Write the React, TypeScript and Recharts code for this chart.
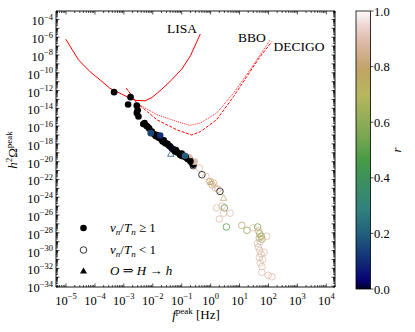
import { ScatterChart, Scatter, XAxis, YAxis, ReferenceArea } from 'recharts'

// [f, h2Omega, r]
const strongPts: [number, number, number][] = [
  [4.6e-4, 6.6e-13, 0], [1.7e-3, 1.8e-13, 0], [1.4e-3, 2.7e-14, 0], [2.8e-3, 2.0e-14, 0],
  [2.8e-3, 2.9e-15, 0], [3.2e-3, 1.2e-15, 0], [4.7e-3, 1.7e-16, 0], [6.0e-3, 1.1e-16, 0],
  [6.5e-3, 9.1e-17, 0], [9.3e-3, 2.5e-17, 0], [1.1e-2, 1.3e-17, 0], [1.4e-2, 1.0e-17, 0],
  [1.6e-2, 5.0e-18, 0], [2.0e-2, 2.9e-18, 0], [2.4e-2, 2.5e-18, 0], [2.7e-2, 1.2e-18, 0],
  [3.2e-2, 1.0e-18, 0], [4.0e-2, 5.1e-19, 0], [4.5e-2, 3.2e-19, 0.02], [5.9e-2, 1.4e-19, 0],
  [6.3e-2, 2.0e-19, 0], [7.1e-2, 1.1e-19, 0], [8.7e-2, 6.0e-20, 0], [0.1, 7.9e-20, 0],
  [0.11, 4.0e-20, 0], [0.16, 2.0e-20, 0], [0.19, 1.6e-20, 0], [0.22, 7.9e-21, 0],
  [0.25, 4.5e-21, 0], [0.18, 3.2e-20, 0.9], [0.28, 1.0e-20, 0.9],
  [3.0e-3, 6.0e-15, 0], [5.2e-3, 2.2e-16, 0], [7.5e-3, 5.5e-17, 0], [1.25e-2, 7.5e-18, 0],
  [2.2e-2, 1.8e-18, 0], [3.6e-2, 6.5e-19, 0], [5.2e-2, 2.4e-19, 0], [9.5e-2, 4.8e-20, 0],
  [0.14, 3.0e-20, 0], [0.2, 1.1e-20, 0],
  [8.5e-3, 1.6e-17, 0.15], [1.8e-2, 8.9e-18, 0.1], [0.13, 4.6e-20, 0.2],
]

const weakPts: [number, number, number][] = [
  [0.25, 3.5e-21, 0], [0.41, 1.9e-21, 0.9], [0.5, 3.4e-22, 0], [0.69, 2.2e-22, 0.9],
  [0.95, 6.0e-23, 0.8], [1.26, 3.9e-23, 0.85], [1.45, 1.1e-23, 0.9], [2.1, 4.5e-24, 0],
  [1.12, 2.5e-23, 0.8], [1.8, 7.9e-24, 0.85], [1.6, 6.3e-26, 0.9], [2.5, 1.0e-25, 0.9],
  [3.0, 6.3e-26, 0.5], [4.7, 1.6e-26, 0.9], [2.8, 1.6e-26, 0.9], [2.0, 3.5e-27, 0.9],
  [3.5, 4.5e-28, 0.5], [12, 6.8e-28, 0.8], [18, 1.9e-28, 0.6], [29, 3.5e-28, 0.9],
  [42, 4.5e-28, 0.55], [45, 1.6e-28, 0.85], [50, 7.9e-29, 0.75], [56, 4.0e-29, 0.55],
  [48, 2.5e-29, 0.8], [60, 2.0e-29, 0.6], [52, 1.0e-29, 0.9], [87, 4.0e-29, 0.9],
  [45, 2.5e-30, 0.9], [50, 1.0e-30, 0.9], [56, 4.0e-31, 0.9], [48, 1.6e-31, 0.9],
  [63, 1.0e-31, 0.9], [52, 4.0e-32, 0.9], [60, 1.6e-32, 0.9], [59, 3.5e-33, 0.9],
  [98, 1.6e-33, 0.9], [132, 1.1e-33, 0.9], [42, 6.3e-30, 0.9], [71, 6.3e-31, 0.9],
]

const higgsPts: [number, number, number][] = [
  [4.2e-2, 7.1e-20, 0.2], [2.8, 7.9e-25, 0.8], [1.0, 5.0e-23, 0.8],
]

// sensitivity curves [f, h2Omega]
const lisaCurve: [number, number][] = [
  [9.8e-6, 6.0e-7], [2.7e-5, 2.8e-9], [6.8e-5, 1.3e-10], [1.5e-4, 1.6e-11], [3.3e-4, 1.8e-12],
  [7.4e-4, 4.9e-13], [1.6e-3, 1.4e-13], [2.6e-3, 7.9e-14], [5.4e-3, 6.9e-14], [9.3e-3, 1.6e-13],
  [2.0e-2, 1.3e-12], [4.5e-2, 1.6e-11], [0.1, 2.5e-10], [0.2, 8.0e-9], [0.44, 2.3e-6],
]
const bboCurve: [number, number][] = [
  [1.2e-3, 1.9e-12], [1.8e-3, 3.3e-13], [2.8e-3, 3.8e-14], [5.4e-3, 1.1e-14], [1.4e-2, 1.9e-15],
  [6.8e-2, 3.3e-16], [0.19, 1.2e-16], [0.44, 2.2e-16], [1.6, 2.9e-15], [6.2, 5.1e-13],
  [23, 2.1e-10], [51, 1.0e-8], [115, 5.0e-7],
]
const decigoCurve: [number, number][] = [
  [1.2e-3, 1.9e-12], [1.8e-3, 3.3e-13], [2.8e-3, 3.8e-14], [5.4e-3, 6.8e-15], [1.4e-2, 5.1e-16],
  [6.8e-2, 3.8e-17], [0.22, 1.0e-17], [0.44, 2.3e-17], [1.6, 5.1e-16], [6.2, 2.1e-13],
  [23, 1.3e-10], [51, 6.3e-9], [132, 3.2e-7],
]

const xMajorExp = [-5, -4, -3, -2, -1, 0, 1, 2, 3, 4]
const yLabelExp = [-34, -32, -30, -28, -26, -24, -22, -20, -18, -16, -14, -12, -10, -8, -6, -4]
const cbarTicks = ['0.0', '0.2', '0.4', '0.6', '0.8', '1.0']

const X_DOMAIN = [4.5e-6, 2.0e4]
const Y_DOMAIN = [7.9e-35, 8.9e-4]

const W = 415
const H = 332
const LEFT = 56
const RIGHT = 335
const TOP = 11
const BOTTOM = 287
const FONT = '"Liberation Serif", "DejaVu Serif", serif'

// gist_earth
const RS = [[0, 0], [0.2824, 0.1882], [0.4588, 0.2714], [0.549, 0.4719], [0.698, 0.7176], [0.7882, 0.7553], [1, 0.9922]]
const GS = [[0, 0], [0.0275, 0], [0.1098, 0.1893], [0.1647, 0.3035], [0.2078, 0.3841], [0.2824, 0.502], [0.5216, 0.6397],
  [0.698, 0.7171], [0.7882, 0.6392], [0.8157, 0.6549], [0.898, 0.743], [0.9412, 0.8275], [0.9647, 0.8816], [1, 0.9843]]
const BS = [[0, 0], [0.0039, 0.1684], [0.0078, 0.2212], [0.0275, 0.4329], [0.0314, 0.4549], [0.2824, 0.5004],
  [0.4667, 0.2748], [0.5451, 0.3205], [0.7843, 0.3961], [0.8941, 0.6651], [1, 0.9843]]

const interp = (s: number[][], t: number) => {
  for (let i = 1; i < s.length; i++) {
    if (t <= s[i][0]) {
      const [x0, y0] = s[i - 1]
      const [x1, y1] = s[i]
      return y0 + (y1 - y0) * (t - x0) / (x1 - x0)
    }
  }
  return s[s.length - 1][1]
}
const cmap = (t: number) =>
  `rgb(${Math.round(interp(RS, t) * 255)},${Math.round(interp(GS, t) * 255)},${Math.round(interp(BS, t) * 255)})`

const toObj = (arr: [number, number, number][]) => arr.map(([f, h, rv]) => ({ f, h, rv }))
const toLine = (arr: [number, number][]) => arr.map(([f, h]) => ({ f, h }))

const xTicks: number[] = []
for (let e = -6; e <= 4; e++) for (let m = 1; m <= 9; m++) {
  const v = m * Math.pow(10, e)
  if (v >= X_DOMAIN[0] && v <= X_DOMAIN[1]) xTicks.push(v)
}
const yTicks: number[] = []
for (let e = -35; e <= -4; e++) for (let m = 1; m <= 9; m++) {
  const v = m * Math.pow(10, e)
  if (v >= Y_DOMAIN[0] && v <= Y_DOMAIN[1]) yTicks.push(v)
}

const majorExp = (v: number) => {
  const l = Math.log10(v)
  const e = Math.round(l)
  return Math.abs(l - e) < 1e-6 ? e : null
}

const XTick = (props: any) => {
  const { x, payload } = props
  const e = majorExp(payload.value)
  const len = e !== null ? 3.5 : 2
  return (
    <g>
      <line x1={x} x2={x} y1={BOTTOM} y2={BOTTOM - len} stroke="#000" strokeWidth={0.7} />
      <line x1={x} x2={x} y1={TOP} y2={TOP + len} stroke="#000" strokeWidth={0.7} />
      {e !== null && xMajorExp.includes(e) && (
        <text x={x} y={BOTTOM + 17.5} textAnchor="middle" fontSize={12.5} fontFamily={FONT} fill="#000">
          10<tspan dy={-5.5} fontSize={8.5}>{e < 0 ? `−${-e}` : e}</tspan>
        </text>
      )}
    </g>
  )
}

const YTick = (props: any) => {
  const { y, payload } = props
  const e = majorExp(payload.value)
  const len = e !== null ? 3.5 : 2
  return (
    <g>
      <line x1={LEFT} x2={LEFT + len} y1={y} y2={y} stroke="#000" strokeWidth={0.7} />
      <line x1={RIGHT} x2={RIGHT - len} y1={y} y2={y} stroke="#000" strokeWidth={0.7} />
      {e !== null && yLabelExp.includes(e) && (
        <text x={LEFT - 3} y={y + 6} textAnchor="end" fontSize={12.5} fontFamily={FONT} fill="#000">
          10<tspan dy={-5.5} fontSize={8.5}>{`−${-e}`}</tspan>
        </text>
      )}
    </g>
  )
}

const FilledDot = (p: any) => <circle cx={p.cx} cy={p.cy} r={3.3} fill={cmap(p.payload.rv)} />
const OpenDot = (p: any) => (
  <circle cx={p.cx} cy={p.cy} r={3.3} fill="none" stroke={cmap(p.payload.rv)} strokeWidth={0.8} />
)
const OpenTri = (p: any) => (
  <path
    d={`M${p.cx},${p.cy - 3.6}L${p.cx + 3.2},${p.cy + 2.2}L${p.cx - 3.2},${p.cy + 2.2}Z`}
    fill="none" stroke={cmap(p.payload.rv)} strokeWidth={0.8}
  />
)
const NoDot = () => <g />

const sub = (s: string) => <tspan fontSize={9} dy={2.5} fontStyle="italic">{s}</tspan>

export default function App() {
  const cbX = 356
  const cbW = 14.5
  const cbTop = 11
  const cbBot = 289
  const stops = Array.from({ length: 201 }, (_, i) => i / 200)
  return (
    <div style={{ position: 'absolute', left: 0, top: 0, width: W, height: H, background: '#fff' }}>
      <ScatterChart width={W} height={H} margin={{ top: TOP, right: W - RIGHT, bottom: 0, left: 0 }}>
        <XAxis
          type="number" dataKey="f" scale="log" domain={X_DOMAIN} allowDataOverflow
          ticks={xTicks} interval={0} tick={<XTick />} tickLine={false} axisLine={false} height={H - BOTTOM}
        />
        <YAxis
          type="number" dataKey="h" scale="log" domain={Y_DOMAIN} allowDataOverflow
          ticks={yTicks} interval={0} tick={<YTick />} tickLine={false} axisLine={false} width={LEFT}
        />
        <Scatter data={toLine(lisaCurve)} line={{ stroke: '#ff0000', strokeWidth: 1 }} shape={NoDot} isAnimationActive={false} />
        <Scatter data={toLine(bboCurve)} line={{ stroke: '#ff2020', strokeWidth: 1, strokeDasharray: '1 1' }} shape={NoDot} isAnimationActive={false} />
        <Scatter data={toLine(decigoCurve)} line={{ stroke: '#ff0000', strokeWidth: 1, strokeDasharray: '3 1.5' }} shape={NoDot} isAnimationActive={false} />
        <Scatter data={toObj(weakPts)} shape={OpenDot} isAnimationActive={false} />
        <Scatter data={toObj(higgsPts)} shape={OpenTri} isAnimationActive={false} />
        <Scatter data={toObj(strongPts)} shape={FilledDot} isAnimationActive={false} />
        <ReferenceArea x1={X_DOMAIN[0]} x2={X_DOMAIN[1]} y1={Y_DOMAIN[0]} y2={Y_DOMAIN[1]} fill="none" stroke="#000" strokeWidth={0.9} ifOverflow="visible" />
      </ScatterChart>
      <svg width={W} height={H} style={{ position: 'absolute', left: 0, top: 0, pointerEvents: 'none' }} fontFamily={FONT}>
        <defs>
          <linearGradient id="cb" x1="0" y1="1" x2="0" y2="0">
            {stops.map(t => <stop key={t} offset={t} stopColor={cmap(t)} />)}
          </linearGradient>
        </defs>
        <text x={182} y={33} fontSize={13.5} textAnchor="middle">LISA</text>
        <text x={252} y={42} fontSize={13.5} textAnchor="middle">BBO</text>
        <text x={299} y={51} fontSize={13.5} textAnchor="middle">DECIGO</text>

        <circle cx={83.5} cy={228} r={3.3} fill="#000" />
        <circle cx={83.5} cy={250} r={3.3} fill="none" stroke="#000" strokeWidth={0.8} />
        <path d="M83.5,267.5L87,273.5L80,273.5Z" fill="#000" />
        <text x={110} y={232} fontSize={13}>
          <tspan fontStyle="italic">v</tspan>{sub('n')}<tspan dy={-2.5}>/</tspan><tspan fontStyle="italic">T</tspan>{sub('n')}<tspan dy={-2.5}> ≥ 1</tspan>
        </text>
        <text x={110} y={254} fontSize={13}>
          <tspan fontStyle="italic">v</tspan>{sub('n')}<tspan dy={-2.5}>/</tspan><tspan fontStyle="italic">T</tspan>{sub('n')}<tspan dy={-2.5}> &lt; 1</tspan>
        </text>
        <text x={110} y={275} fontSize={13}>
          <tspan fontStyle="italic">O</tspan> ⇒ <tspan fontStyle="italic">H</tspan> → <tspan fontStyle="italic">h</tspan>
        </text>

        <text x={196} y={319} fontSize={13} textAnchor="middle">
          <tspan fontStyle="italic">f</tspan><tspan dy={-5.5} fontSize={9}>peak</tspan><tspan dy={5.5}> [Hz]</tspan>
        </text>
        <text transform="translate(17,150) rotate(-90)" fontSize={13} textAnchor="middle">
          <tspan fontStyle="italic">h</tspan><tspan dy={-5.5} fontSize={9}>2</tspan><tspan dy={5.5}>Ω</tspan><tspan dy={-5.5} fontSize={9}>peak</tspan>
        </text>

        <rect x={cbX} y={cbTop} width={cbW} height={cbBot - cbTop} fill="url(#cb)" stroke="#000" strokeWidth={0.8} />
        {cbarTicks.map((lab, i) => {
          const y = cbBot - (i / (cbarTicks.length - 1)) * (cbBot - cbTop)
          return (
            <g key={lab}>
              <line x1={cbX + cbW} x2={cbX + cbW + 3} y1={y} y2={y} stroke="#000" strokeWidth={0.7} />
              <text x={cbX + cbW + 3.5} y={y + 4.5} fontSize={12.5}>{lab}</text>
            </g>
          )
        })}
        <text transform="translate(401,150) rotate(-90)" fontSize={13} fontStyle="italic" textAnchor="middle">r</text>
      </svg>
    </div>
  )
}
